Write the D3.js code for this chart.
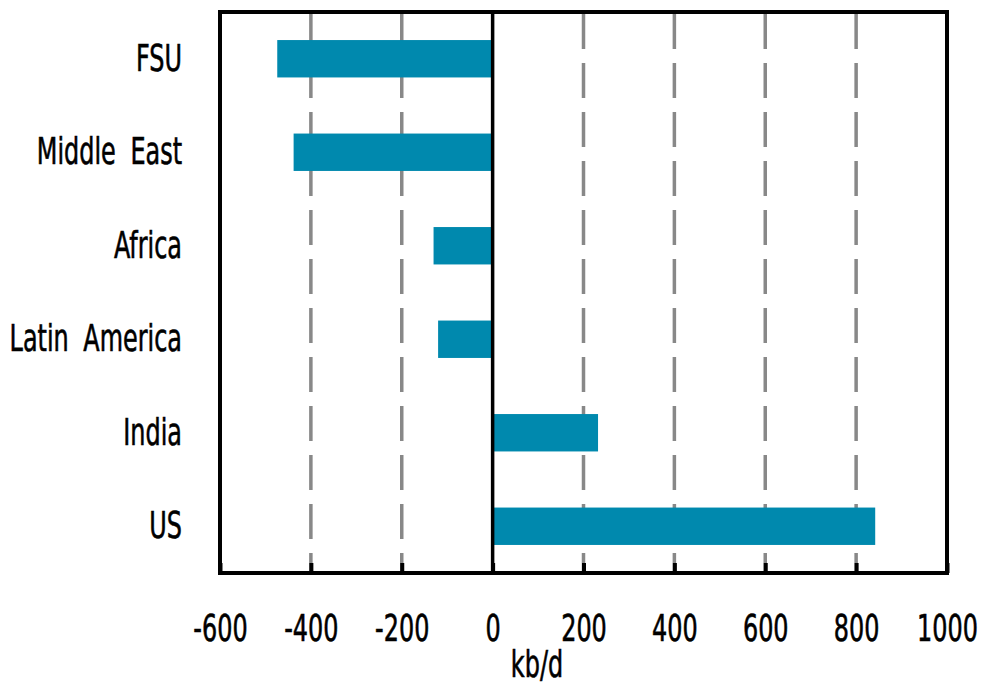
<!DOCTYPE html>
<html>
<head>
<meta charset="utf-8">
<script src="https://cdn.jsdelivr.net/npm/d3@7"></script>
<style>
  body { margin: 0; background: #fff; }
  text { font-family: "DejaVu Sans Condensed", "Liberation Sans Narrow", sans-serif; fill: #000; stroke: #000; stroke-width: 0.6px; }
</style>
</head>
<body>
<svg id="chart" width="981" height="687"></svg>
<script>
// data (kb/d)
var regions = ["FSU", "Middle East", "Africa", "Latin America", "India", "US"];
var changes = [-474, -438, -130, -120, 232, 842];
var xTicks = [-600, -400, -200, 0, 200, 400, 600, 800, 1000];
var axisTitle = "kb/d";

var W = 981, H = 687;
var m = { top: 12, right: 34, bottom: 114, left: 220 };
var iw = W - m.left - m.right, ih = H - m.top - m.bottom;
var SX = 0.7; // squeeze text to look like the condensed face
var FS = 38;

var svg = d3.select("#chart");
var g = svg.append("g").attr("transform", "translate(" + m.left + "," + m.top + ")");

var x = d3.scaleLinear().domain([-600, 1000]).range([0, iw]);
var y = d3.scaleBand().domain(regions).range([0, ih]).paddingInner(0.6).paddingOuter(0.3);

//* dashed grid lines
g.selectAll(".grid").data(xTicks.filter(function(d){ return d !== 0 && d !== -600 && d !== 1000; }))
  .enter().append("line")
  .attr("x1", function(d){ return x(d); })
  .attr("x2", function(d){ return x(d); })
  .attr("y1", 2).attr("y2", ih)
  .attr("stroke", "#888")
  .attr("stroke-width", 3.5)
  .attr("stroke-dasharray", "35,14");

//* bars
g.selectAll(".bar").data(changes).enter().append("rect")
  .attr("x", function(d){ return x(Math.min(0, d)); })
  .attr("y", function(d, i){ return y(regions[i]); })
  .attr("width", function(d){ return Math.abs(x(d) - x(0)); })
  .attr("height", y.bandwidth())
  .attr("fill", "#0089ae");

//* zero line
g.append("line")
  .attr("x1", x(0)).attr("x2", x(0))
  .attr("y1", 0).attr("y2", ih)
  .attr("stroke", "#000").attr("stroke-width", 3.5);

//* bottom axis, ticks pointing in
var xa = g.append("g").attr("transform", "translate(0," + ih + ")")
  .call(d3.axisBottom(x).tickValues(xTicks).tickSize(-10).tickPadding(41).tickFormat(String));
xa.select(".domain").remove();
xa.selectAll("line").attr("stroke", "#000").attr("stroke-width", 4);
xa.selectAll("text")
  .attr("font-size", FS)
  .attr("transform", "scale(" + SX + ",1)");

//* left axis labels
var ya = g.append("g").call(d3.axisLeft(y).tickSize(0).tickPadding(38));
ya.select(".domain").remove();
ya.selectAll("text")
  .attr("font-size", FS)
  .attr("x", -38 / SX)
  .attr("dy", "0.32em")
  .attr("word-spacing", 10)
  .attr("transform", "scale(" + SX + ",1)");

//* frame
g.append("rect")
  .attr("width", iw).attr("height", ih)
  .attr("fill", "none")
  .attr("stroke", "#000").attr("stroke-width", 4);

//* axis title
svg.append("text")
  .attr("transform", "translate(537,677) scale(" + SX + ",1)")
  .attr("text-anchor", "middle")
  .attr("font-size", FS)
  .text(axisTitle);
</script>
</body>
</html>
